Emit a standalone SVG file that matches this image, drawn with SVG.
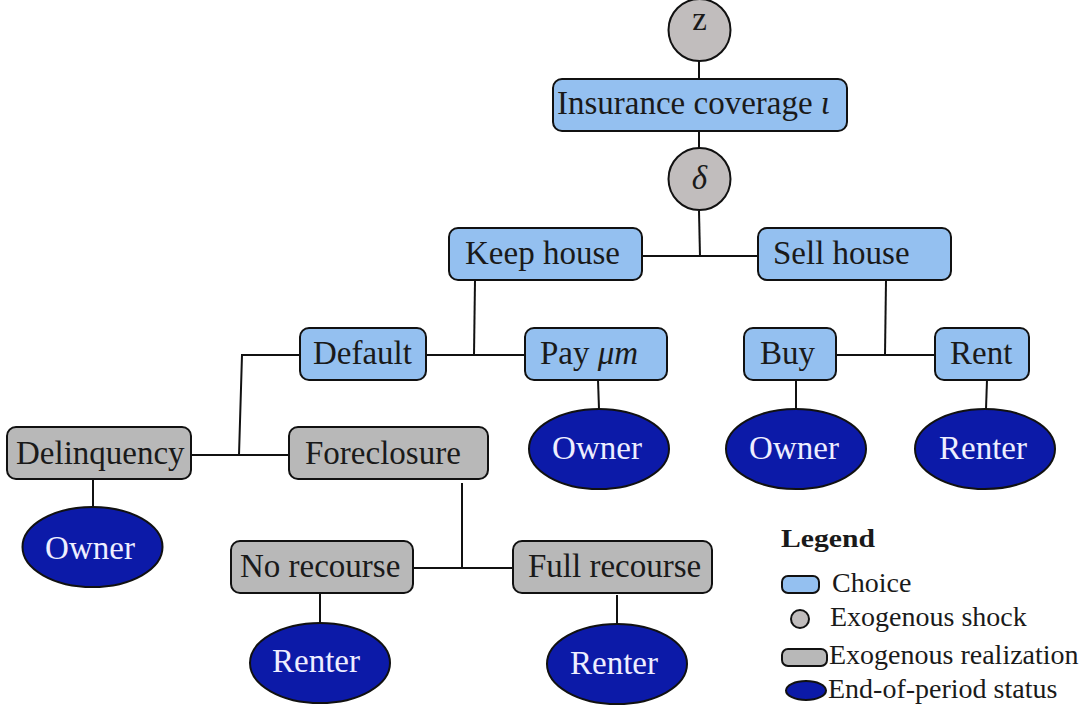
<svg xmlns="http://www.w3.org/2000/svg" width="1089" height="713" viewBox="0 0 1089 713">
<style>
.choice{fill:#94c0f0;stroke:#111;stroke-width:2}
.real{fill:#b8b8b8;stroke:#111;stroke-width:2}
.shock{fill:#c1bdbd;stroke:#111;stroke-width:2}
.status{fill:#0c1aa8;stroke:#111;stroke-width:2}
text{font-family:'Liberation Serif','Times New Roman',Times,'DejaVu Serif',serif}
.t{font-size:33px;fill:#1a1a1a}
.w{font-size:33px;fill:#eeeeff;text-anchor:middle}
.lt{font-size:28px;fill:#1a1a1a}
.c line,.c polyline{stroke:#111;stroke-width:2;fill:none}
</style>
<rect width="1089" height="713" fill="#fff"/>
<g class="c" id="connectors">
<line x1="699" y1="61" x2="699" y2="79"/>
<line x1="699" y1="131" x2="699" y2="149"/>
<line x1="699" y1="211" x2="700" y2="256"/>
<line x1="642" y1="256" x2="758" y2="256"/>
<line x1="475" y1="280" x2="474" y2="355"/>
<line x1="426" y1="355" x2="524" y2="355"/>
<polyline points="300,355 242,355 239,455"/>
<line x1="191" y1="455" x2="288" y2="455"/>
<line x1="886" y1="280" x2="885" y2="355"/>
<line x1="836" y1="355" x2="935" y2="355"/>
<line x1="598" y1="380" x2="599" y2="409"/>
<line x1="796" y1="380" x2="796" y2="409"/>
<line x1="987" y1="380" x2="986" y2="409"/>
<line x1="93" y1="479" x2="93" y2="507"/>
<line x1="462" y1="483" x2="462" y2="568"/>
<line x1="414" y1="568" x2="512" y2="568"/>
<line x1="320" y1="593" x2="320" y2="623"/>
<line x1="617" y1="595" x2="617" y2="624"/>
</g>
<g id="z"><circle class="shock" cx="699.5" cy="30" r="31"/><text class="t" x="699.5" y="30" text-anchor="middle">z</text></g>
<g id="insurance"><rect class="choice" x="553" y="79" width="294" height="52" rx="9"/><text class="t" x="557" y="114">Insurance coverage <tspan font-style="italic">ι</tspan></text></g>
<g id="delta"><circle class="shock" cx="699.5" cy="179" r="31"/><text class="t" x="699.5" y="189" text-anchor="middle" font-style="italic">δ</text></g>
<g id="keep"><rect class="choice" x="449" y="228" width="193" height="52" rx="9"/><text class="t" x="465" y="264">Keep house</text></g>
<g id="sell"><rect class="choice" x="758" y="228" width="193" height="52" rx="9"/><text class="t" x="773" y="264">Sell house</text></g>
<g id="default"><rect class="choice" x="300" y="328" width="126" height="52" rx="9"/><text class="t" x="313" y="364">Default</text></g>
<g id="pay"><rect class="choice" x="525" y="328" width="142" height="52" rx="9"/><text class="t" x="540" y="364">Pay <tspan font-style="italic">μm</tspan></text></g>
<g id="buy"><rect class="choice" x="744" y="328" width="92" height="52" rx="9"/><text class="t" x="760" y="364">Buy</text></g>
<g id="rent"><rect class="choice" x="935" y="328" width="94" height="52" rx="9"/><text class="t" x="950" y="364">Rent</text></g>
<g id="delinquency"><rect class="real" x="7" y="427" width="184" height="52" rx="9"/><text class="t" x="16" y="464">Delinquency</text></g>
<g id="foreclosure"><rect class="real" x="289" y="427" width="199" height="52" rx="9"/><text class="t" x="305" y="464">Foreclosure</text></g>
<g id="norecourse"><rect class="real" x="231" y="541" width="182" height="52" rx="9"/><text class="t" x="240" y="577">No recourse</text></g>
<g id="fullrecourse"><rect class="real" x="513" y="541" width="199" height="52" rx="9"/><text class="t" x="528" y="577">Full recourse</text></g>
<g id="owner1"><ellipse class="status" cx="599" cy="449" rx="70" ry="40"/><text class="w" x="597" y="459">Owner</text></g>
<g id="owner2"><ellipse class="status" cx="796" cy="449" rx="70" ry="40"/><text class="w" x="794" y="459">Owner</text></g>
<g id="renter1"><ellipse class="status" cx="985" cy="449" rx="70" ry="40"/><text class="w" x="983" y="459">Renter</text></g>
<g id="owner3"><ellipse class="status" cx="92.5" cy="547" rx="70" ry="40"/><text class="w" x="90" y="559">Owner</text></g>
<g id="renter2"><ellipse class="status" cx="320" cy="663" rx="70" ry="40"/><text class="w" x="316" y="672">Renter</text></g>
<g id="renter3"><ellipse class="status" cx="617" cy="664" rx="70" ry="40"/><text class="w" x="614" y="674">Renter</text></g>
<g id="legend">
<text x="781" y="547" font-size="25px" font-weight="bold" fill="#1a1a1a" textLength="94" lengthAdjust="spacingAndGlyphs">Legend</text>
<rect class="choice" x="782" y="576" width="37" height="17" rx="6"/>
<text class="lt" x="832" y="592">Choice</text>
<circle class="shock" cx="800" cy="619" r="9" stroke-width="1.8"/>
<text class="lt" x="830" y="626">Exogenous shock</text>
<rect class="real" x="782" y="649" width="45" height="17" rx="6"/>
<text class="lt" x="829" y="664">Exogenous realization</text>
<ellipse class="status" cx="806" cy="690.5" rx="20" ry="9.5"/>
<text class="lt" x="828" y="698">End-of-period status</text>
</g>
</svg>
